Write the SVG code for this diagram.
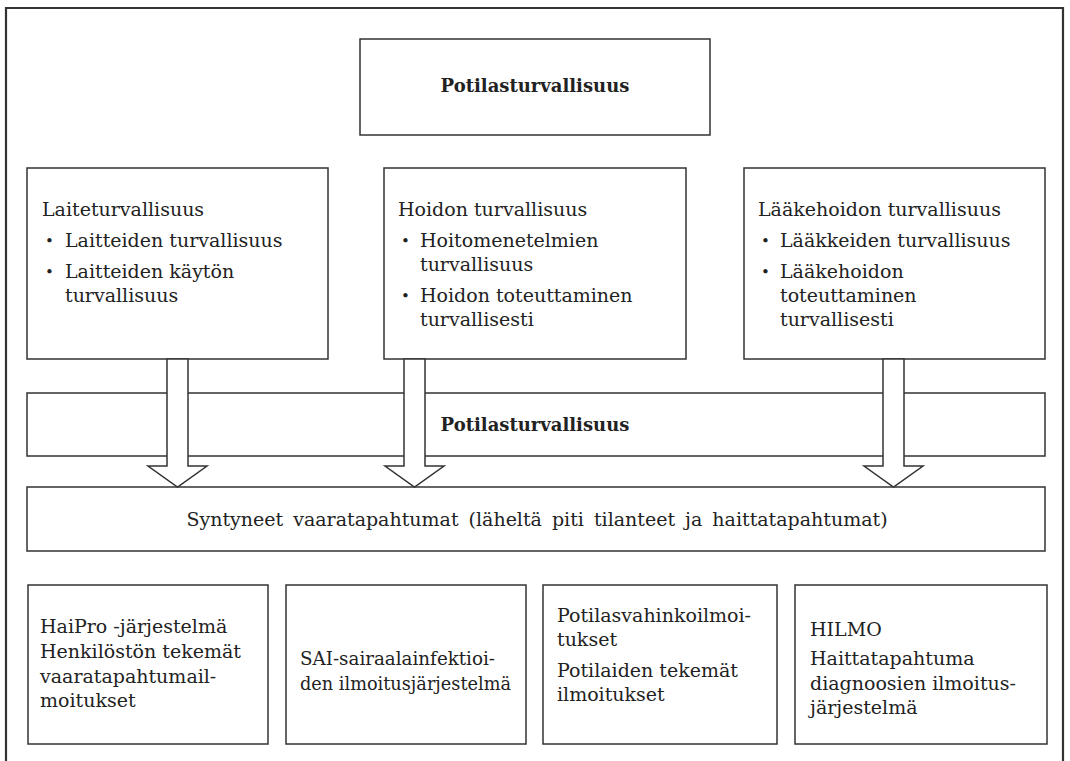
<svg xmlns="http://www.w3.org/2000/svg" width="1070" height="761" viewBox="0 0 1070 761">
<style>
.box{fill:#fff;stroke:#333;stroke-width:1.5}
.arrow{fill:#fff;stroke:#333;stroke-width:1.5;stroke-linejoin:miter}
text{font-family:"DejaVu Serif","Liberation Serif",serif;font-size:19px;fill:#222}
.b{font-weight:bold;font-size:18px}
.c{text-anchor:middle}
.bul{font-size:15px}
</style>
<rect width="1070" height="761" fill="#fff"/>
<path d="M6,770 V8 H1063 V770" fill="none" stroke="#333" stroke-width="2.2"/>

<g id="top">
<rect class="box" x="360" y="39" width="350" height="96"/>
<text class="b c" x="535" y="92">Potilasturvallisuus</text>
</g>

<g id="laite">
<rect class="box" x="27" y="168" width="301" height="191"/>
<text x="42" y="216">Laiteturvallisuus</text>
<text class="bul" x="45" y="246">•</text>
<text x="65" y="247">Laitteiden turvallisuus</text>
<text class="bul" x="45" y="277">•</text>
<text x="65" y="278">Laitteiden käytön</text>
<text x="65" y="302">turvallisuus</text>
</g>

<g id="hoito">
<rect class="box" x="384" y="168" width="302" height="191"/>
<text x="398" y="216">Hoidon turvallisuus</text>
<text class="bul" x="401" y="246">•</text>
<text x="420" y="247">Hoitomenetelmien</text>
<text x="420" y="271">turvallisuus</text>
<text class="bul" x="401" y="301">•</text>
<text x="420" y="302">Hoidon toteuttaminen</text>
<text x="420" y="326">turvallisesti</text>
</g>

<g id="laake">
<rect class="box" x="744" y="168" width="301" height="191"/>
<text x="758" y="216">Lääkehoidon turvallisuus</text>
<text class="bul" x="761" y="246">•</text>
<text x="780" y="247">Lääkkeiden turvallisuus</text>
<text class="bul" x="761" y="277">•</text>
<text x="780" y="278">Lääkehoidon</text>
<text x="780" y="302">toteuttaminen</text>
<text x="780" y="326">turvallisesti</text>
</g>

<g id="band">
<rect class="box" x="27" y="393" width="1018" height="63"/>
<text class="b c" x="535" y="431">Potilasturvallisuus</text>
</g>

<g id="syntyneet">
<rect class="box" x="27" y="487" width="1018" height="64"/>
<text class="c" x="537" y="526" word-spacing="4">Syntyneet vaaratapahtumat (läheltä piti tilanteet ja haittatapahtumat)</text>
</g>

<g id="connectors">
<polygon class="arrow" points="167,359 188,359 188,466 207,466 177.5,487 148,466 167,466"/>
<polygon class="arrow" points="404,359 425,359 425,466 444,466 414.5,487 385,466 404,466"/>
<polygon class="arrow" points="883,359 904,359 904,466 923,466 893.5,487 864,466 883,466"/>
</g>

<g id="haipro">
<rect class="box" x="28" y="585" width="240" height="159"/>
<text x="40" y="633">HaiPro -järjestelmä</text>
<text x="40" y="658">Henkilöstön tekemät</text>
<text x="40" y="683">vaaratapahtumail-</text>
<text x="40" y="707">moitukset</text>
</g>

<g id="sai">
<rect class="box" x="286" y="585" width="240" height="159"/>
<text x="300" y="665" textLength="195" lengthAdjust="spacingAndGlyphs">SAI-sairaalainfektioi-</text>
<text x="300" y="690" textLength="211" lengthAdjust="spacingAndGlyphs">den ilmoitusjärjestelmä</text>
</g>

<g id="potilasvahinko">
<rect class="box" x="543" y="585" width="234" height="159"/>
<text x="557" y="622">Potilasvahinkoilmoi-</text>
<text x="557" y="646">tukset</text>
<text x="557" y="677">Potilaiden tekemät</text>
<text x="557" y="701">ilmoitukset</text>
</g>

<g id="hilmo">
<rect class="box" x="795" y="585" width="252" height="159"/>
<text x="810" y="636">HILMO</text>
<text x="810" y="665">Haittatapahtuma</text>
<text x="810" y="690">diagnoosien ilmoitus-</text>
<text x="810" y="714">järjestelmä</text>
</g>
</svg>
